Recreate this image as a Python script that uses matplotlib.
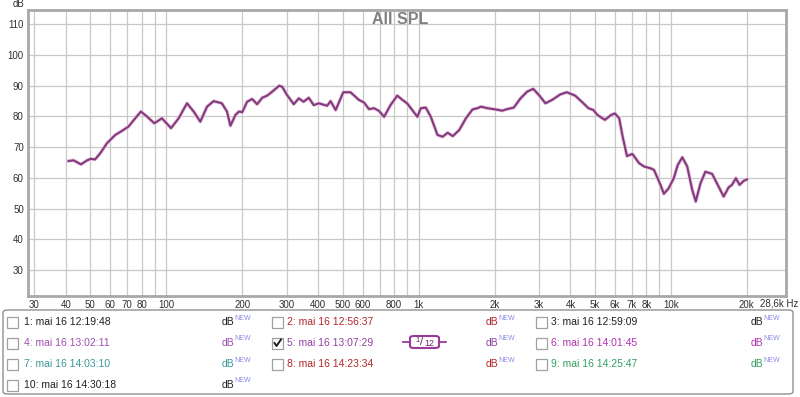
import matplotlib
matplotlib.use("Agg")
import matplotlib.pyplot as plt
from matplotlib.patches import FancyBboxPatch, Rectangle
from matplotlib.lines import Line2D

plt.rcParams['font.family'] = ['Liberation Sans', 'DejaVu Sans']

# ---- data ----
freq = [41, 42.9, 45.9, 48.5, 50.2, 52.2, 54.7, 58.2, 62.8, 66.7, 70.8, 75.3, 79.3,
        83.8, 89.6, 96.1, 104.4, 111.9, 120.8, 128.4, 136.4, 145, 154, 166, 174,
        179.5, 188, 194, 200, 209, 219, 229, 240, 251, 263, 280, 288, 301, 320,
        335, 350, 367, 384, 402, 434, 448, 469, 503, 537, 580, 607, 636, 666, 697,
        730, 774, 823, 860, 900, 944, 989, 1020, 1068, 1118, 1188, 1245, 1304,
        1366, 1450, 1540, 1636, 1713, 1765, 1874, 2020, 2146, 2245, 2384, 2535,
        2693, 2847, 2998, 3183, 3382, 3646, 3872, 4174, 4435, 4712, 4931, 5115,
        5475, 5800, 6000, 6240, 6440, 6700, 7040, 7480, 7830, 8320, 8570, 9100,
        9380, 9800, 10270, 10650, 11100, 11610, 12150, 12550, 13100, 13700,
        14570, 15470, 16190, 16940, 17460, 18110, 18720, 19420, 20040]
spl = [65.5, 65.7, 64.4, 65.7, 66.2, 66.0, 68.0, 71.3, 74.0, 75.3, 76.7, 79.4, 81.6,
       80.0, 77.8, 79.4, 76.2, 79.4, 84.3, 81.6, 78.3, 83.2, 85.0, 84.3, 81.6,
       77.0, 80.5, 81.6, 81.4, 84.8, 85.7, 84.0, 86.1, 86.8, 88.1, 90.0, 89.7, 87.0, 84.0,
       85.9, 84.8, 86.1, 83.7, 84.3, 83.5, 85.0, 82.1, 87.9, 87.9, 85.4, 84.6, 82.4, 82.7, 81.8,
       79.9, 83.7, 86.8, 85.5, 84.3, 82.1, 79.9, 82.7, 82.9, 79.9, 74.0, 73.4, 74.7,
       73.6, 75.6, 79.4, 82.3, 82.7, 83.2, 82.7, 82.3, 81.9, 82.4, 82.9, 85.9,
       88.1, 89.0, 87.0, 84.3, 85.4, 87.2, 87.9, 86.8, 84.8, 82.7, 82.1, 80.5,
       78.9, 80.5, 81.0, 79.4, 73.4, 67.1, 67.8, 64.8, 63.7, 63.1, 62.6, 57.7,
       54.8, 56.6, 59.9, 64.2, 66.7, 63.7, 56.1, 52.3, 58.2, 62.0,
       61.3, 57.1, 53.9, 56.9, 57.7, 59.9, 57.7, 59.0, 59.5]

xtick_vals = [30, 40, 50, 60, 70, 80, 100, 200, 300, 400, 500, 600, 800,
              1000, 2000, 3000, 4000, 5000, 6000, 7000, 8000, 10000, 20000]
xtick_labels = ['30', '40', '50', '60', '70', '80', '100', '200', '300', '400', '500',
                '600', '800', '1k', '2k', '3k', '4k', '5k', '6k', '7k', '8k', '10k', '20k']
grid_freqs = ([30, 40, 50, 60, 70, 80, 90] + [100 * i for i in range(1, 10)] +
              [1000 * i for i in range(1, 10)] + [10000, 20000])
ytick_vals = [30, 40, 50, 60, 70, 80, 90, 100, 110]

legend_labels = [
    ["1: mai 16 12:19:48", "4: mai 16 13:02:11", "7: mai 16 14:03:10", "10: mai 16 14:30:18"],
    ["2: mai 16 12:56:37", "5: mai 16 13:07:29", "8: mai 16 14:23:34"],
    ["3: mai 16 12:59:09", "6: mai 16 14:01:45", "9: mai 16 14:25:47"],
]
legend_colors = [
    ['#202020', '#a050b0', '#3a9a9a', '#202020'],
    ['#b02828', '#9040a0', '#b02828'],
    ['#202020', '#b030b0', '#30a060'],
]

W, H = 800, 397
fig = plt.figure(figsize=(W / 100, H / 100), dpi=100)
fig.patch.set_facecolor('white')

def fx(px):
    return px / W

def fy(py):
    return 1 - py / H

ax_l, ax_r, ax_t, ax_b = 28, 786, 10, 296
ax = fig.add_axes([fx(ax_l), fy(ax_b), fx(ax_r - ax_l), (ax_b - ax_t) / H])
ax.set_xscale('log')
ax.set_xlim(28.3, 28600)
ax.set_ylim(21.5, 114.7)

for f in grid_freqs:
    ax.axvline(f, color='#c8c8c8', lw=0.9, zorder=1)
for v in ytick_vals:
    ax.axhline(v, color='#c8c8c8', lw=0.9, zorder=1)

ax.plot(freq, spl, color='#e6c4e0', lw=2.6, zorder=2, solid_joinstyle='round')
ax.plot(freq, spl, color='#853a7c', lw=1.5, zorder=3, solid_joinstyle='round')

ax.set_xticks(xtick_vals)
ax.set_xticklabels(xtick_labels)
ax.xaxis.set_minor_locator(matplotlib.ticker.NullLocator())
ax.set_yticks(ytick_vals)
ax.set_yticklabels([str(v) for v in ytick_vals])
ax.tick_params(axis='both', length=0, labelsize=7, colors='#303030')
ax.tick_params(axis='x', pad=3)
ax.tick_params(axis='y', pad=3)
for s in ax.spines.values():
    s.set_color('#a8a8a8')
    s.set_linewidth(2)

fig.text(fx(400), fy(19), 'All SPL', ha='center', va='center',
         fontsize=11.5, fontweight='bold', color='#808080')
fig.text(fx(13), fy(4), 'dB', fontsize=7, color='#303030', ha='left', va='center')
fig.text(fx(798), fy(303.5), '28,6k Hz', fontsize=7, color='#303030', ha='right', va='center')

# ---- legend box ----
box = FancyBboxPatch((fx(3), fy(394)), fx(790), (394 - 310) / H,
                     boxstyle='round,pad=0,rounding_size=0.006',
                     transform=fig.transFigure, facecolor='white',
                     edgecolor='#909090', lw=1.0, zorder=0)
fig.patches.append(box)

rows_y = [322, 343, 364, 385]
col_box_x = [7, 272, 536]
col_text_x = [24, 287, 551]
col_db_x = [222, 486, 751]
for c, labels in enumerate(legend_labels):
    for r, lab in enumerate(labels):
        y = rows_y[r]
        col = legend_colors[c][r]
        cb = Rectangle((fx(col_box_x[c]), fy(y + 5.5)), fx(11), 11 / H,
                       transform=fig.transFigure, facecolor='white',
                       edgecolor='#a0a0a0', lw=0.9, zorder=1)
        fig.patches.append(cb)
        if c == 1 and r == 1:
            bx = col_box_x[c]
            fig.lines.append(Line2D([fx(bx + 2.5), fx(bx + 4.5), fx(bx + 9)],
                                    [fy(y), fy(y + 3), fy(y - 3.5)],
                                    transform=fig.transFigure, color='#202020', lw=1.4,
                                    zorder=2))
        fig.text(fx(col_text_x[c]), fy(y), lab, fontsize=7.5, color=col,
                 ha='left', va='center')
        fig.text(fx(col_db_x[c]), fy(y), 'dB', fontsize=7.5, color=col,
                 ha='left', va='center')
        fig.text(fx(col_db_x[c] + 12.5), fy(y - 4), 'NEW', fontsize=5, color='#8a8ae8',
                 ha='left', va='center')

# smoothing badge
by = 342
fig.lines.append(Line2D([fx(403), fx(446)], [fy(by), fy(by)],
                        transform=fig.transFigure, color='#9a3a9a', lw=1.3, zorder=1))
badge = FancyBboxPatch((fx(410), fy(by + 6)), fx(29), 12 / H,
                       boxstyle='round,pad=0,rounding_size=0.005',
                       transform=fig.transFigure, facecolor='white',
                       edgecolor='#9a3a9a', lw=1.5, zorder=2)
fig.patches.append(badge)
fig.text(fx(418), fy(by - 2), '1', fontsize=5.5, color='#6a2a6a',
         ha='center', va='center', zorder=5)
fig.text(fx(421.5), fy(by), '/', fontsize=8, color='#6a2a6a',
         ha='center', va='center', zorder=5)
fig.text(fx(424), fy(by + 1), '12', fontsize=6.5, color='#6a2a6a',
         ha='left', va='center', zorder=5)

fig.savefig('out.png', dpi=100, facecolor='white')
